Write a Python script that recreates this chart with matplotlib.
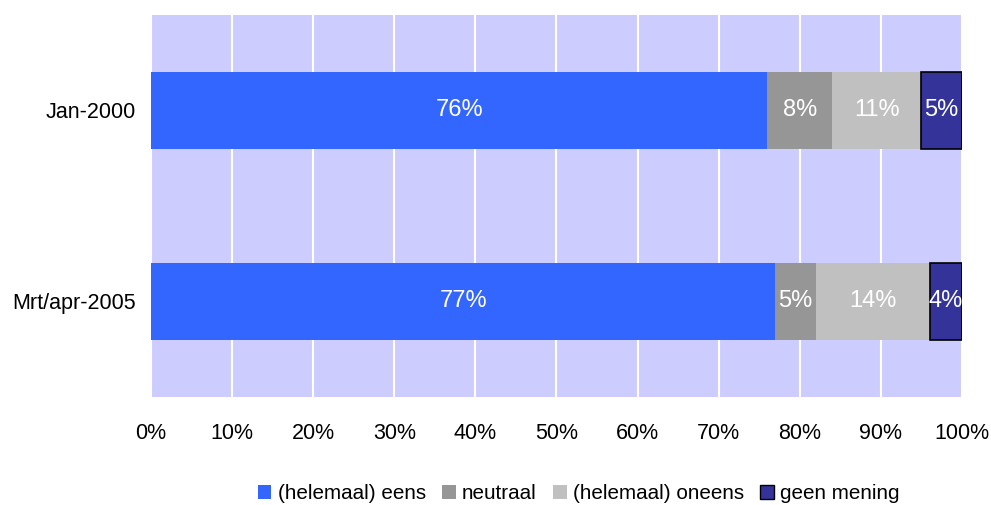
import matplotlib.pyplot as plt
from matplotlib.patches import Patch
from matplotlib.ticker import PercentFormatter

plt.rcParams['font.family'] = ['Liberation Sans', 'DejaVu Sans']

periods = ['Jan-2000', 'Mrt/apr-2005']
series = ['(helemaal) eens', 'neutraal', '(helemaal) oneens', 'geen mening']
values = {
    '(helemaal) eens': [76, 77],
    'neutraal': [8, 5],
    '(helemaal) oneens': [11, 14],
    'geen mening': [5, 4],
}
colors = ['#3366FF', '#969696', '#C0C0C0', '#333399']

fig = plt.figure(figsize=(9.91, 5.05), dpi=100)
ax = fig.add_axes([0.1524, 0.2139, 0.8183, 0.7564])
ax.set_facecolor('#CCCCFF')

ypos = list(range(len(periods)))
left = [0] * len(periods)
for name, col in zip(series, colors):
    vals = values[name]
    edge = 'black' if name == 'geen mening' else 'none'
    ax.barh(ypos, vals, left=left, height=0.4, color=col, edgecolor=edge,
            linewidth=1.2 if edge != 'none' else 0, zorder=3)
    for y, l, v in zip(ypos, left, vals):
        ax.text(l + v / 2, y, f'{v}%', color='white', ha='center', va='center',
                fontsize=17, zorder=4)
    left = [a + b for a, b in zip(left, vals)]

ax.set_xlim(0, 100)
ax.set_ylim(1.5, -0.5)
ax.set_xticks(range(0, 101, 10))
ax.xaxis.set_major_formatter(PercentFormatter(decimals=0))
ax.set_yticks(ypos)
ax.set_yticklabels(periods)
ax.tick_params(length=0, labelsize=15.5, pad=11)
ax.tick_params(axis='x', pad=19)
ax.grid(axis='x', color='white', linewidth=1.5, zorder=1)
for s in ax.spines.values():
    s.set_visible(False)

handles = [Patch(facecolor=c, edgecolor='black' if n == 'geen mening' else 'none', label=n)
           for n, c in zip(series, colors)]
fig.legend(handles=handles, loc='center', bbox_to_anchor=(0.584, 0.023), ncol=4,
           frameon=False, fontsize=14.9, handlelength=0.65, handleheight=0.65,
           handletextpad=0.3, columnspacing=0.8)

fig.savefig('out.png', dpi=100)
